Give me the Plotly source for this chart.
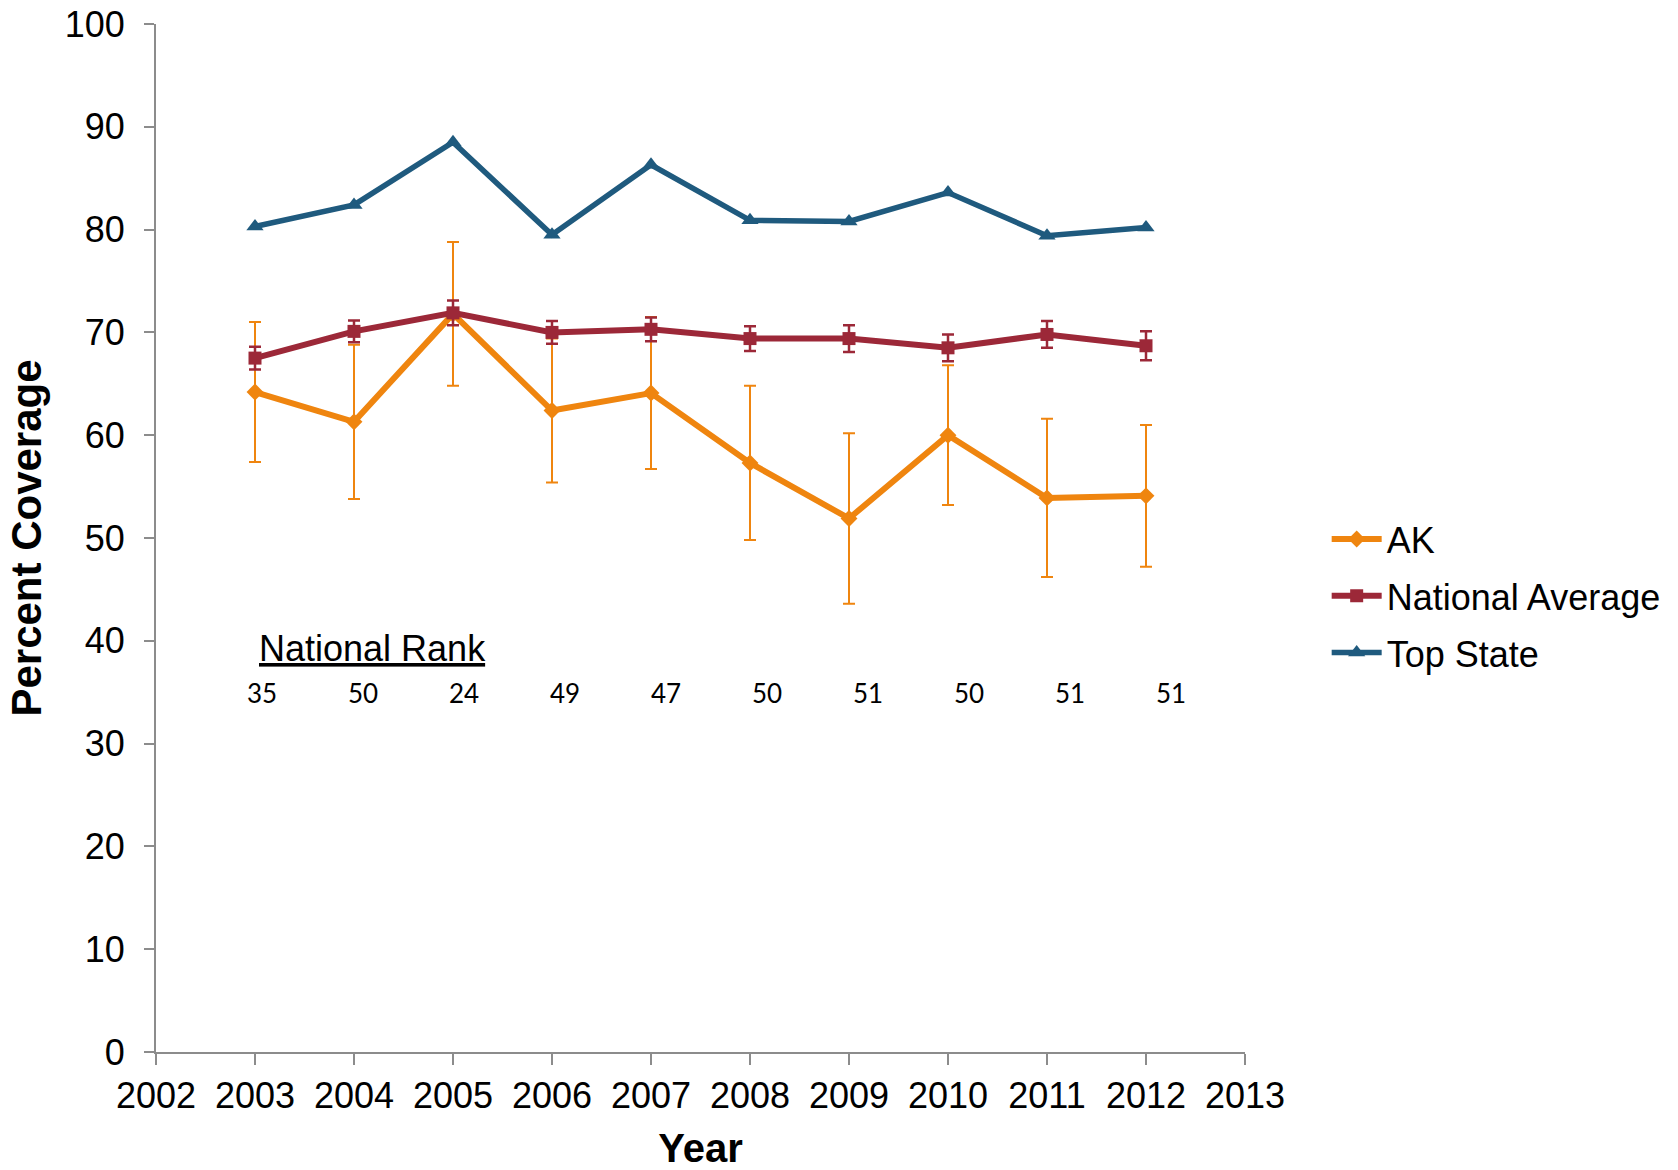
import plotly.graph_objects as go

years = [2003, 2004, 2005, 2006, 2007, 2008, 2009, 2010, 2011, 2012]
ak = [64.2, 61.3, 71.8, 62.4, 64.1, 57.3, 51.9, 60.0, 53.9, 54.1]
ak_err = [6.8, 7.5, 7.0, 7.0, 7.4, 7.5, 8.3, 6.8, 7.7, 6.9]
national_avg = [67.5, 70.1, 71.9, 70.0, 70.3, 69.4, 69.4, 68.5, 69.8, 68.7]
national_err = [1.1, 1.05, 1.2, 1.1, 1.15, 1.2, 1.3, 1.3, 1.3, 1.4]
top_state = [80.3, 82.4, 88.5, 79.5, 86.3, 80.9, 80.8, 83.6, 79.4, 80.2]
national_rank = ["35", "50", "24", "49", "47", "50", "51", "50", "51", "51"]
x_ticks = list(range(2002, 2014))
y_ticks = list(range(0, 101, 10))

ORANGE = "#EF850F"
RED = "#9C2838"
BLUE = "#1F5A7E"
AXIS = "#8C8C8C"
FONT = "Liberation Sans, Arial, sans-serif"

fig = go.Figure()
fig.add_trace(go.Scatter(
    x=years, y=ak, name="AK", mode="lines+markers", legendgroup="ak",
    line=dict(color=ORANGE, width=6),
    marker=dict(symbol="diamond", size=13, color=ORANGE),
    error_y=dict(type="data", array=ak_err, visible=True, color=ORANGE, thickness=2, width=6),
))
fig.add_trace(go.Scatter(
    x=years, y=national_avg, name="National Average", mode="lines+markers", legendgroup="na",
    line=dict(color=RED, width=6),
    marker=dict(symbol="square", size=13, color=RED),
    error_y=dict(type="data", array=national_err, visible=True, color=RED, thickness=2.5, width=6),
))
fig.add_trace(go.Scatter(
    x=years, y=top_state, name="Top State", mode="lines+markers", legendgroup="top",
    line=dict(color=BLUE, width=5.5),
    marker=dict(symbol="triangle-up", size=15, color=BLUE),
))

annotations = [dict(
    x=2003.02, y=39.25, xref="x", yref="y", text="<u>National Rank</u>",
    showarrow=False, xanchor="left", yanchor="middle",
    font=dict(family=FONT, size=36, color="black"),
)]
for i, r in enumerate(national_rank):
    annotations.append(dict(
        x=2003.07 + i * 1.02, y=34.9, xref="x", yref="y", text=r,
        showarrow=False, xanchor="center", yanchor="middle",
        font=dict(family="Lato, sans-serif", size=26, color="black"),
    ))

fig.update_layout(
    width=1678, height=1170,
    margin=dict(l=156, r=433, t=24, b=118, autoexpand=False),
    paper_bgcolor="white", plot_bgcolor="white",
    font=dict(family=FONT, size=36, color="black"),
    showlegend=True,
    legend=dict(x=1.075, y=0.4435, xanchor="left", yanchor="middle",
                font=dict(family=FONT, size=36, color="black"),
                itemwidth=50, tracegroupgap=7, bgcolor="rgba(0,0,0,0)"),
    annotations=annotations,
    xaxis=dict(
        range=[2002, 2013], tickvals=x_ticks, ticktext=[str(v) for v in x_ticks],
        showgrid=False, zeroline=False, showline=True, linecolor=AXIS, linewidth=2,
        ticks="outside", ticklen=11, tickcolor=AXIS, tickwidth=2, automargin=False,
        tickfont=dict(family=FONT, size=36, color="black"),
        title=dict(text="<b>Year</b>", font=dict(family=FONT, size=40, color="black"), standoff=24),
    ),
    yaxis=dict(
        range=[0, 100], tickvals=y_ticks,
        showgrid=False, zeroline=False, showline=True, linecolor=AXIS, linewidth=2,
        ticks="outside", ticklen=10, tickcolor=AXIS, tickwidth=2, automargin=False,
        ticklabelstandoff=12,
        tickfont=dict(family=FONT, size=36, color="black"),
        title=dict(text="<b>Percent Coverage</b>", font=dict(family=FONT, size=42, color="black"), standoff=10),
    ),
)

fig.write_html("out.html")
